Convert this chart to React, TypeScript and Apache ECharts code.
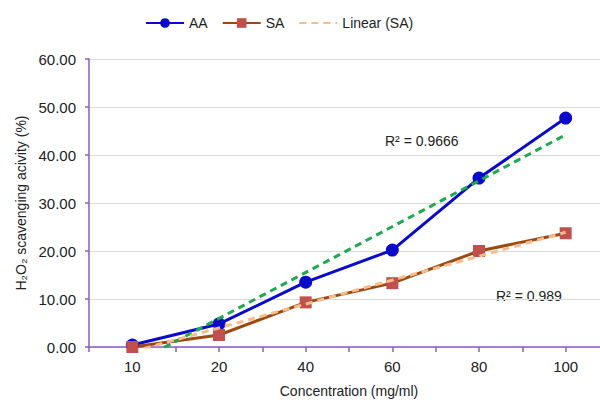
import React, { useEffect, useRef } from "react";
import * as echarts from "echarts";

const categories = ["10", "20", "40", "60", "80", "100"];
const aaValues = [0.4, 4.8, 13.5, 20.2, 35.2, 47.7];
const saValues = [0.0, 2.5, 9.3, 13.3, 20.0, 23.7];
// trendline end points (first and last category)
const aaTrend = [-3.6, null, null, null, null, 44.2];
const saTrend = [-1.0, null, null, null, null, 23.9];
const tickSlots = ["", "", "", "", "", "", "", "", "", "", "", ""];
const r2AA = "R² = 0.9666";
const r2SA = "R² = 0.989";

const FONT = "Liberation Sans, Arial, sans-serif";
const AXIS_PURPLE = "#8B5CC0";

export default function App() {
  const ref = useRef<HTMLDivElement>(null);
  useEffect(() => {
    document.body.style.margin = "0";
    const chart = echarts.init(ref.current!, null, { renderer: "svg" });
    chart.setOption({
      animation: false,
      backgroundColor: "#ffffff",
      textStyle: { fontFamily: FONT },
      legend: {
        top: 11,
        left: 140,
        itemWidth: 38,
        itemHeight: 12,
        itemGap: 14,
        data: ["AA", "SA", { name: "Linear (SA)", itemStyle: { opacity: 0 } }],
        textStyle: { fontFamily: FONT, fontSize: 14, color: "#222" },
      },
      grid: { left: 89, right: 0, top: 59, bottom: 56 },
      xAxis: [
        {
          type: "category",
          data: categories,
          boundaryGap: true,
          name: "Concentration (mg/ml)",
          nameLocation: "middle",
          nameGap: 37,
          nameTextStyle: { fontFamily: FONT, fontSize: 14, color: "#222" },
          axisLine: { lineStyle: { color: AXIS_PURPLE, width: 1.5 } },
          axisTick: { show: false },
          axisLabel: { fontFamily: FONT, fontSize: 15, color: "#222", margin: 12 },
        },
        {
          type: "category",
          data: tickSlots,
          boundaryGap: true,
          position: "bottom",
          axisLine: { show: false },
          axisTick: { show: true, interval: 0, length: 5, lineStyle: { color: AXIS_PURPLE, width: 1.5 } },
          axisLabel: { show: false },
        },
      ],
      yAxis: {
        type: "value",
        min: 0,
        max: 60,
        interval: 10,
        name: "H₂O₂ scavenging acivity (%)",
        nameLocation: "middle",
        nameGap: 59,
        nameTextStyle: { fontFamily: FONT, fontSize: 14, color: "#222" },
        axisLine: { show: true, lineStyle: { color: AXIS_PURPLE, width: 1.5 } },
        axisTick: { show: true, length: 4, lineStyle: { color: AXIS_PURPLE, width: 1.5 } },
        axisLabel: {
          fontFamily: FONT,
          fontSize: 15,
          color: "#222",
          margin: 13,
          formatter: (v: number) => v.toFixed(2),
        },
        splitLine: { lineStyle: { color: "#D9D9D9", width: 1 } },
      },
      series: [
        {
          name: "Linear (AA)",
          type: "line",
          data: aaTrend,
          connectNulls: true,
          symbol: "none",
          z: 3,
          lineStyle: { color: "#1DAA4E", width: 3, type: [7, 5] },
          itemStyle: { color: "#1DAA4E" },
        },
        {
          name: "Linear (SA)",
          type: "line",
          data: saTrend,
          connectNulls: true,
          symbol: "none",
          z: 4,
          lineStyle: { color: "#F8BB8A", width: 3, type: [7, 5] },
          itemStyle: { color: "#F8BB8A" },
        },
        {
          name: "AA",
          type: "line",
          data: aaValues,
          symbol: "circle",
          symbolSize: 13,
          z: 2,
          lineStyle: { color: "#0A0ACB", width: 3 },
          itemStyle: { color: "#0A0ACB" },
        },
        {
          name: "SA",
          type: "line",
          data: saValues,
          symbol: "rect",
          symbolSize: 12,
          z: 2,
          lineStyle: { color: "#9B4A11", width: 3 },
          itemStyle: { color: "#C0504D" },
        },
      ],
      graphic: [
        {
          type: "text",
          left: 385,
          top: 134,
          style: { text: r2AA, fontFamily: FONT, fontSize: 14, fill: "#222" },
        },
        {
          type: "text",
          left: 496,
          top: 289,
          style: { text: r2SA, fontFamily: FONT, fontSize: 14, fill: "#222" },
        },
      ],
    });
    return () => chart.dispose();
  }, []);
  return (
    <div style={{ width: 600, height: 403, overflow: "hidden", position: "relative" }}>
      <div ref={ref} style={{ width: 609, height: 403 }} />
    </div>
  );
}
